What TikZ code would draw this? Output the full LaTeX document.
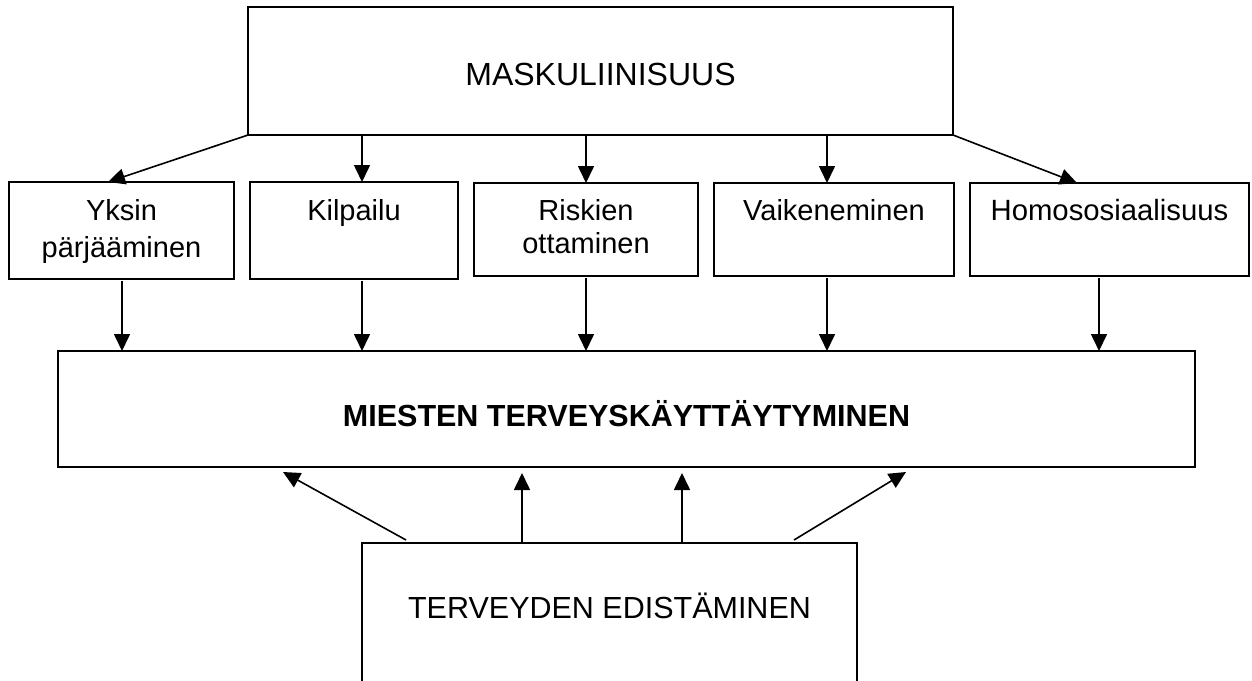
\documentclass[tikz,border=0pt]{standalone}
\usepackage{fontspec}
\setmainfont{Liberation Sans}
\usetikzlibrary{arrows.meta,calc}
\newcommand{\bxt}[4]{\parbox[t][#2][t]{#1}{\centering\rule{0pt}{#3}#4}}
\begin{document}
\begin{tikzpicture}[x=1pt,y=-1pt,
  box/.style={draw, line width=1.6pt, inner sep=0pt, outer sep=0pt, anchor=north west},
  arr/.style={line width=1.6pt, -{Triangle[length=17pt,width=16pt]}}]
\useasboundingbox (0,0) rectangle (1252,680);
\fill[white] (0,0) rectangle (1252,680);
% boxes
\node[box] (mask) at (248,7) {\fontsize{32pt}{36pt}\selectfont\bxt{705pt}{128pt}{78pt}{MASKULIINISUUS}};
\node[box] (yks) at (9,182) {\fontsize{29pt}{37pt}\selectfont\bxt{225pt}{97pt}{38pt}{Yksin\\pärjääminen}};
\node[box] (kil) at (250,182) {\fontsize{29pt}{37pt}\selectfont\bxt{208pt}{97pt}{38pt}{Kilpailu}};
\node[box] (ris) at (474,183) {\fontsize{29pt}{33pt}\selectfont\bxt{224pt}{93pt}{37pt}{Riskien\\ottaminen}};
\node[box] (vai) at (714,183) {\fontsize{29pt}{33pt}\selectfont\bxt{240pt}{93pt}{37pt}{Vaikeneminen}};
\node[box] (hom) at (970,183) {\fontsize{29.3pt}{33pt}\selectfont\bxt{279pt}{93pt}{37pt}{Homososiaalisuus}};
\node[box] (mies) at (58,351) {\fontsize{30.5pt}{36pt}\selectfont\bfseries\bxt{1137pt}{116pt}{75pt}{MIESTEN TERVEYSKÄYTTÄYTYMINEN}};
\node[box] (ter) at (362,543) {\fontsize{30.5pt}{36pt}\selectfont\bxt{495pt}{145pt}{75pt}{TERVEYDEN EDISTÄMINEN}};
% helper x positions
\coordinate (c2) at (362,0);
\coordinate (c3) at (586,0);
\coordinate (c4) at (827,0);
\coordinate (d1) at (122,0);
\coordinate (d5) at (1099,0);
\coordinate (e1) at (522,0);
\coordinate (e2) at (682,0);
% top arrows
\draw[arr] (mask.south west) -- ($(yks.north west)+(99,0)$);
\draw[arr] (mask.south -| c2) -- (kil.north -| c2);
\draw[arr] (mask.south -| c3) -- (ris.north -| c3);
\draw[arr] (mask.south -| c4) -- (vai.north -| c4);
\draw[arr] (mask.south east) -- ($(hom.north west)+(107,0)$);
% middle arrows
\draw[arr] ($(yks.south -| d1)+(0,2)$) -- (mies.north -| d1);
\draw[arr] ($(kil.south -| c2)+(0,2)$) -- (mies.north -| c2);
\draw[arr] ($(ris.south -| c3)+(0,2)$) -- (mies.north -| c3);
\draw[arr] ($(vai.south -| c4)+(0,2)$) -- (mies.north -| c4);
\draw[arr] ($(hom.south -| d5)+(0,2)$) -- (mies.north -| d5);
% bottom arrows
\draw[arr] ($(ter.north west)+(44,-3)$) -- ($(mies.south west)+(225,5)$);
\draw[arr] (ter.north -| e1) -- ($(mies.south -| e1)+(0,6)$);
\draw[arr] (ter.north -| e2) -- ($(mies.south -| e2)+(0,6)$);
\draw[arr] ($(ter.north east)+(-63,-3)$) -- ($(mies.south west)+(848,5)$);
\end{tikzpicture}
\end{document}
